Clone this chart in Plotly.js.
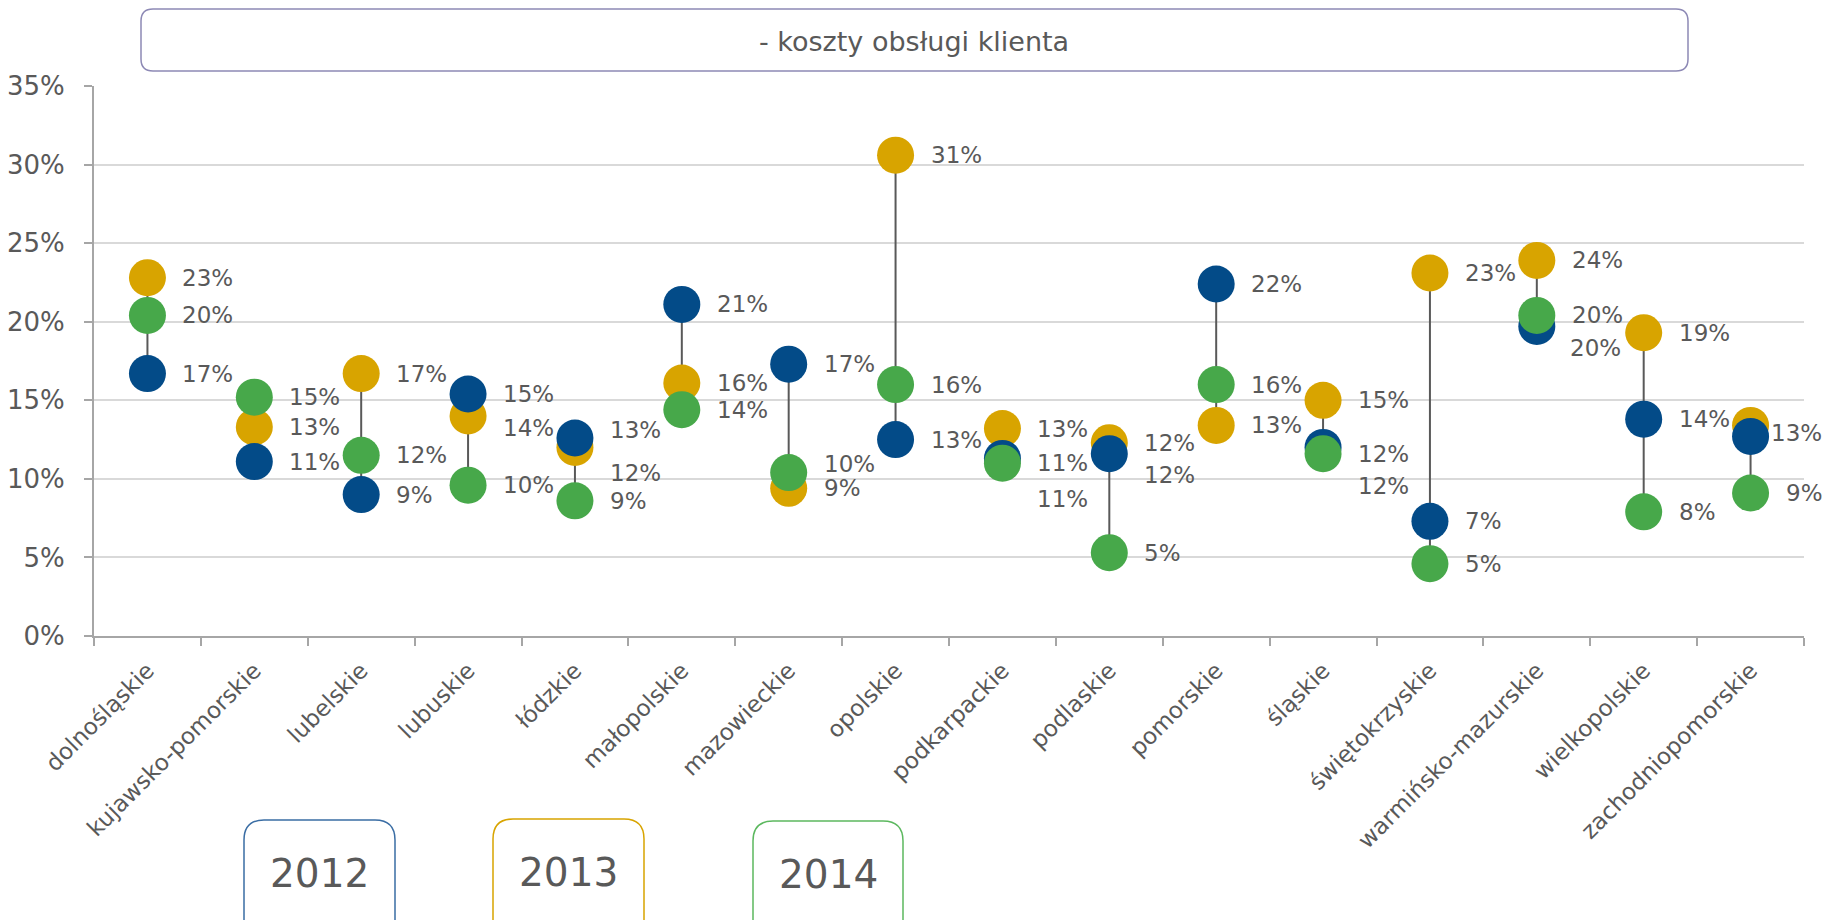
<!DOCTYPE html>
<html>
<head>
<meta charset="utf-8">
<script src="https://cdn.plot.ly/plotly-3.0.1.min.js"></script>
<style>html,body{margin:0;padding:0;background:#fff;}#chart{width:1825px;height:920px;}</style>
</head>
<body>
<div id="chart"></div>
<script>
// ---- data ----
const categories = ['dolnośląskie','kujawsko-pomorskie','lubelskie','lubuskie','łódzkie','małopolskie','mazowieckie','opolskie','podkarpackie','podlaskie','pomorskie','śląskie','świętokrzyskie','warmińsko-mazurskie','wielkopolskie','zachodniopomorskie'];
const v2012 = [16.7, 11.1, 9.0, 15.4, 12.6, 21.1, 17.3, 12.5, 11.3, 11.6, 22.4, 12.0, 7.3, 19.7, 13.8, 12.7];
const v2013 = [22.8, 13.3, 16.7, 14.0, 12.0, 16.1, 9.4, 30.6, 13.2, 12.3, 13.4, 15.0, 23.1, 23.9, 19.3, 13.4];
const v2014 = [20.4, 15.2, 11.5, 9.6, 8.6, 14.4, 10.4, 16.0, 11.0, 5.3, 16.0, 11.6, 4.6, 20.4, 7.9, 9.1];
const years = ['2012', '2013', '2014'];
const titleText = '- koszty obsługi klienta';

// ---- styles ----
const colors = {'2012': '#034b88', '2013': '#d8a400', '2014': '#47a84a'};
const FONT = 'DejaVu Sans, sans-serif';
const TXT = '#595959';
const W = 1825, H = 920, M = {l: 94, r: 21, t: 86, b: 284};
const PW = W - M.l - M.r, PH = H - M.t - M.b;
const X = px => (px - M.l) / PW;
const Y = py => (H - M.b - py) / PH;

// label nudges (pixels) for overlapping labels: [series, categoryIndex, xshift, yshift, hidden]
const nudges = [
  ['2013', 3, 0, -12],
  ['2012', 4, 0, 8], ['2013', 4, 0, -26],
  ['2014', 6, 0, 9],
  ['2012', 8, 0, -41],
  ['2012', 9, 0, -21],
  ['2012', 11, 0, -39],
  ['2012', 13, -2, -22],
  ['2012', 15, -15, 3], ['2013', 15, -15, -8, true]
];

const series = {'2012': v2012, '2013': v2013, '2014': v2014};

// connector lines min..max per category
const lx = [], ly = [];
categories.forEach((c, i) => {
  const vals = [v2012[i], v2013[i], v2014[i]];
  lx.push(c, c, null);
  ly.push(Math.min(...vals), Math.max(...vals), null);
});

const traces = [{
  x: lx, y: ly, type: 'scatter', mode: 'lines',
  line: {color: '#595959', width: 2}, hoverinfo: 'skip', showlegend: false
}];
['2013', '2012', '2014'].forEach(yr => {
  traces.push({
    x: categories, y: series[yr], type: 'scatter', mode: 'markers', name: yr,
    marker: {color: colors[yr], size: 37}, cliponaxis: false, showlegend: false
  });
});

const annotations = [];
years.forEach(yr => {
  series[yr].forEach((v, i) => {
    let xs = 33, ys = 0, hide = false;
    nudges.forEach(n => { if (n[0] === yr && n[1] === i) { xs += n[2]; ys += n[3]; hide = !!n[4]; } });
    if (hide) return;
    annotations.push({
      x: categories[i], y: v, xref: 'x', yref: 'y', text: Math.round(v) + '%',
      showarrow: false, xanchor: 'left', yanchor: 'middle', xshift: xs, yshift: ys,
      font: {family: FONT, size: 23, color: TXT}
    });
  });
});

function roundRect(x0, y0, x1, y1, r) {
  const p = (a, b) => X(a) + ',' + Y(b);
  return 'M' + p(x0 + r, y0) + ' L' + p(x1 - r, y0) + ' Q' + p(x1, y0) + ' ' + p(x1, y0 + r) +
    ' L' + p(x1, y1 - r) + ' Q' + p(x1, y1) + ' ' + p(x1 - r, y1) +
    ' L' + p(x0 + r, y1) + ' Q' + p(x0, y1) + ' ' + p(x0, y1 - r) +
    ' L' + p(x0, y0 + r) + ' Q' + p(x0, y0) + ' ' + p(x0 + r, y0) + ' Z';
}

const shapes = [{
  type: 'path', xref: 'paper', yref: 'paper', path: roundRect(141, 9, 1688, 71, 12),
  line: {color: '#8d89b5', width: 1.5}, fillcolor: 'rgba(0,0,0,0)'
}];
annotations.push({
  xref: 'paper', yref: 'paper', x: X(914), y: Y(41), text: titleText, showarrow: false,
  xanchor: 'center', yanchor: 'middle', font: {family: FONT, size: 27, color: TXT}
});

const legendBoxes = [[244, 395, 820, '#3a6da4'], [493, 644, 819, '#d8a400'], [753, 903, 821, '#5cb85f']];
years.forEach((yr, k) => {
  const b = legendBoxes[k];
  shapes.push({
    type: 'path', xref: 'paper', yref: 'paper', path: roundRect(b[0], b[2], b[1], b[2] + 130, 20),
    line: {color: b[3], width: 1.5}, fillcolor: 'rgba(0,0,0,0)'
  });
  annotations.push({
    xref: 'paper', yref: 'paper', x: X((b[0] + b[1]) / 2), y: Y(b[2] + 53), text: yr, showarrow: false,
    xanchor: 'center', yanchor: 'middle', font: {family: FONT, size: 39, color: TXT}
  });
});

const layout = {
  width: W, height: H, margin: M, paper_bgcolor: '#fff', plot_bgcolor: '#fff',
  showlegend: false, hovermode: false,
  xaxis: {
    type: 'category', range: [-0.5, 15.5], showgrid: false, zeroline: false,
    showline: true, linecolor: '#a6a6a6', linewidth: 2,
    ticks: 'outside', tickson: 'boundaries', ticklen: 8, tickcolor: '#a6a6a6', tickwidth: 2,
    tickangle: -45, ticklabelstandoff: 10,
    tickfont: {family: FONT, size: 23, color: TXT}
  },
  yaxis: {
    range: [0, 35], dtick: 5, ticksuffix: '%', showgrid: true, gridcolor: '#d9d9d9', gridwidth: 2,
    zeroline: false, showline: true, linecolor: '#a6a6a6', linewidth: 2,
    ticks: 'outside', ticklen: 8, tickcolor: '#a6a6a6', tickwidth: 2, ticklabelstandoff: 14,
    tickfont: {family: FONT, size: 26, color: TXT}
  },
  shapes: shapes, annotations: annotations
};

Plotly.newPlot('chart', traces, layout, {staticPlot: true});
</script>
</body>
</html>
